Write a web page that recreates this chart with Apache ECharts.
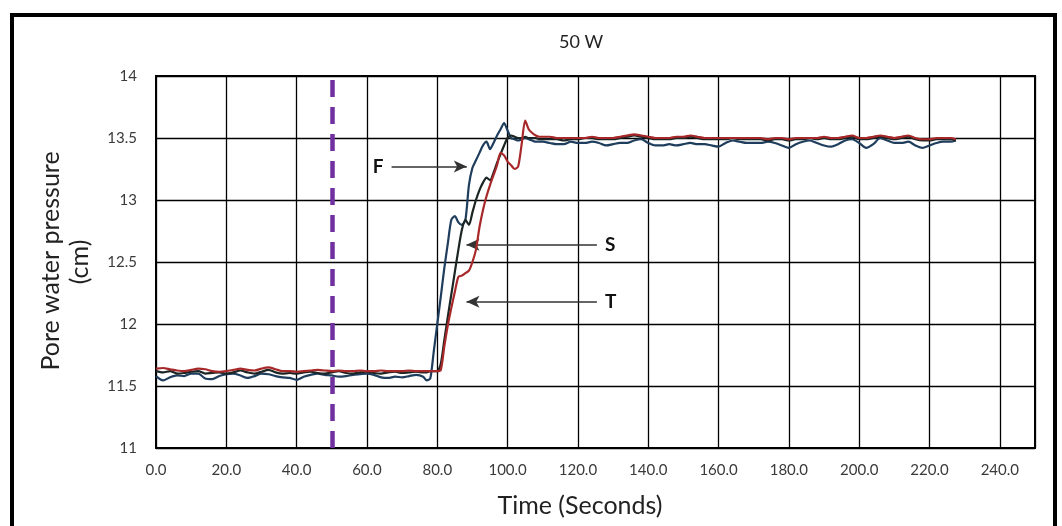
<!DOCTYPE html>
<html>
<head>
<meta charset="utf-8">
<script src="https://cdn.jsdelivr.net/npm/echarts@6/dist/echarts.min.js"></script>
<style>
  html, body { margin: 0; padding: 0; background: #fff; }
  #chart { width: 1062px; height: 526px; }
</style>
</head>
<body>
<div id="chart"></div>
<script>
// Sample times (s): every 2 s while steady, every 1 s through the pressure rise
const timeSec = [
  0, 2, 4, 6, 8, 10, 12, 14, 16, 18, 20, 22, 24, 26, 28, 30, 32, 34, 36, 38,
  40, 42, 44, 46, 48, 50, 52, 54, 56, 58, 60, 62, 64, 66, 68, 70, 72, 74, 76,
  77, 78, 79, 80, 81, 82, 83, 84, 85, 86, 87, 88, 89, 90, 91, 92, 93, 94, 95,
  96, 97, 98, 99, 100, 101, 102, 103, 104, 105, 106, 107, 108, 109, 110,
  112, 114, 116, 118, 120, 122, 124, 126, 128, 130, 132, 134, 136, 138, 140,
  142, 144, 146, 148, 150, 152, 154, 156, 158, 160, 162, 164, 166, 168, 170,
  172, 174, 176, 178, 180, 182, 184, 186, 188, 190, 192, 194, 196, 198, 200,
  202, 204, 206, 208, 210, 212, 214, 216, 218, 220, 222, 224, 226, 227.5
];

// Pore water pressure (cm) at sensor F
const pressureF = [
  11.58, 11.545, 11.57, 11.585, 11.58, 11.6, 11.6, 11.56, 11.555, 11.58, 11.595, 11.6, 11.585, 11.565, 11.58, 11.6, 11.595, 11.58, 11.57, 11.565,
  11.55, 11.575, 11.59, 11.6, 11.59, 11.585, 11.575, 11.58, 11.59, 11.595, 11.6, 11.59, 11.57, 11.565, 11.575, 11.57, 11.58, 11.59, 11.575,
  11.545, 11.56, 11.78, 12.0, 12.22, 12.45, 12.65, 12.84, 12.87, 12.82, 12.8, 12.84, 13.12, 13.26, 13.32, 13.38, 13.44, 13.47, 13.41,
  13.46, 13.52, 13.57, 13.62, 13.56, 13.5, 13.49, 13.48, 13.49, 13.5, 13.49, 13.48, 13.47, 13.47, 13.47,
  13.46, 13.45, 13.45, 13.47, 13.46, 13.46, 13.47, 13.46, 13.44, 13.45, 13.46, 13.46, 13.48, 13.49, 13.46,
  13.44, 13.44, 13.45, 13.44, 13.45, 13.46, 13.45, 13.45, 13.44, 13.43, 13.46, 13.48, 13.47, 13.46, 13.46,
  13.46, 13.47, 13.46, 13.44, 13.42, 13.45, 13.47, 13.48, 13.46, 13.44, 13.43, 13.45, 13.48, 13.49, 13.46,
  13.42, 13.45, 13.5, 13.48, 13.46, 13.46, 13.47, 13.44, 13.42, 13.44, 13.46, 13.47, 13.47, 13.48
];

// Pore water pressure (cm) at sensor S
const pressureS = [
  11.62, 11.61, 11.62, 11.6, 11.605, 11.615, 11.62, 11.6, 11.605, 11.61, 11.6, 11.61, 11.625, 11.61, 11.6, 11.615, 11.63, 11.61, 11.6, 11.605,
  11.6, 11.61, 11.615, 11.605, 11.6, 11.61, 11.62, 11.605, 11.6, 11.61, 11.615, 11.605, 11.6, 11.61, 11.615, 11.605, 11.61, 11.615, 11.61,
  11.61, 11.62, 11.62, 11.62, 11.68, 11.87, 12.06, 12.24, 12.42, 12.6, 12.76, 12.84, 12.8, 12.9, 13.0, 13.08, 13.14, 13.18, 13.16,
  13.22, 13.3, 13.37, 13.44, 13.5, 13.52, 13.51, 13.5, 13.5, 13.51, 13.5, 13.5, 13.5, 13.49, 13.49,
  13.49, 13.49, 13.48, 13.49, 13.49, 13.5, 13.5, 13.49, 13.49, 13.49, 13.5, 13.51, 13.52, 13.51, 13.5,
  13.49, 13.49, 13.49, 13.5, 13.5, 13.51, 13.5, 13.49, 13.49, 13.49, 13.49, 13.5, 13.49, 13.49, 13.49,
  13.49, 13.48, 13.49, 13.49, 13.48, 13.49, 13.49, 13.5, 13.49, 13.5, 13.49, 13.49, 13.5, 13.51, 13.49,
  13.49, 13.5, 13.51, 13.5, 13.49, 13.5, 13.51, 13.49, 13.48, 13.48, 13.49, 13.49, 13.49, 13.48
];

// Pore water pressure (cm) at sensor T
const pressureT = [
  11.64, 11.645, 11.635, 11.625, 11.62, 11.63, 11.64, 11.635, 11.62, 11.615, 11.62, 11.63, 11.64, 11.63, 11.625, 11.64, 11.65, 11.635, 11.62, 11.62,
  11.615, 11.62, 11.625, 11.63, 11.625, 11.62, 11.625, 11.62, 11.62, 11.625, 11.62, 11.62, 11.625, 11.62, 11.62, 11.62, 11.625, 11.62, 11.62,
  11.62, 11.62, 11.62, 11.62, 11.63, 11.82, 11.99, 12.13, 12.26, 12.38, 12.39, 12.41, 12.43, 12.5, 12.6, 12.78, 12.92, 13.03, 13.12,
  13.2, 13.28, 13.38, 13.36, 13.31, 13.28, 13.25, 13.27, 13.45, 13.64, 13.57, 13.54, 13.52, 13.51, 13.51,
  13.51, 13.5, 13.5, 13.5, 13.5, 13.5, 13.51, 13.5, 13.5, 13.5, 13.51, 13.52, 13.53, 13.52, 13.51,
  13.5, 13.5, 13.5, 13.51, 13.51, 13.52, 13.51, 13.5, 13.5, 13.5, 13.5, 13.5, 13.5, 13.5, 13.5,
  13.5, 13.49, 13.5, 13.5, 13.49, 13.5, 13.5, 13.5, 13.5, 13.51, 13.5, 13.5, 13.51, 13.52, 13.5,
  13.5, 13.51, 13.52, 13.51, 13.5, 13.51, 13.52, 13.5, 13.49, 13.49, 13.5, 13.5, 13.5, 13.49
];

// Moment the heater is switched on (s)
const heaterOnSec = 50;

// Pointer arrows: [label, tail time, tip time, pressure level]
const pointerF = ['F', 67.0, 88.4, 13.27];
const pointerS = ['S', 125.4, 88.3, 12.64];
const pointerT = ['T', 125.4, 88.3, 12.18];

const FONT = 'Lato, "Open Sans", sans-serif';

function pairs(values) {
  return timeSec.map((t, i) => [t, values[i]]);
}

function pointer(p) {
  return [
    { coord: [p[1], p[3]], symbol: 'none',
      label: { show: true, position: 'start', formatter: p[0], distance: 8,
               fontFamily: FONT, fontWeight: 'bold', fontSize: 19, color: '#111' } },
    { coord: [p[2], p[3]], symbol: 'arrow', symbolSize: [9, 13] }
  ];
}

const chart = echarts.init(document.getElementById('chart'), null, { renderer: 'canvas' });

chart.setOption({
  backgroundColor: '#ffffff',
  animation: false,
  grid: {
    left: 156, right: 27, top: 76, bottom: 78,
    show: true, borderColor: '#000', borderWidth: 2, backgroundColor: 'transparent'
  },
  xAxis: {
    type: 'value', min: 0, max: 250, interval: 20,
    axisLine: { show: true, onZero: false, lineStyle: { color: '#000', width: 2 } },
    axisTick: { show: false },
    splitLine: { show: true, lineStyle: { color: '#000', width: 1.3 } },
    axisLabel: {
      showMaxLabel: false, margin: 15,
      fontFamily: FONT, fontSize: 15, color: '#3a3a3a',
      formatter: v => v.toFixed(1)
    }
  },
  yAxis: {
    type: 'value', min: 11, max: 14, interval: 0.5,
    axisLine: { show: true, lineStyle: { color: '#000', width: 2 } },
    axisTick: { show: false },
    splitLine: { show: true, lineStyle: { color: '#000', width: 1.3 } },
    axisLabel: { margin: 19, fontFamily: FONT, fontSize: 15, color: '#3a3a3a' }
  },
  graphic: [
    { type: 'rect', shape: { x: 12, y: 15, width: 1043, height: 540 },
      style: { fill: 'none', stroke: '#000', lineWidth: 4 }, silent: true },
    { type: 'text', x: 581, y: 42,
      style: { text: '50 W', font: '18px ' + FONT, fill: '#222',
               textAlign: 'center', textVerticalAlign: 'middle' } },
    { type: 'text', x: 580, y: 506,
      style: { text: 'Time (Seconds)', font: '25px ' + FONT, fill: '#222',
               textAlign: 'center', textVerticalAlign: 'middle' } },
    { type: 'text', x: 51, y: 261, rotation: Math.PI / 2,
      style: { text: 'Pore water pressure', font: '25px ' + FONT, fill: '#222',
               textAlign: 'center', textVerticalAlign: 'middle' } },
    { type: 'text', x: 80, y: 262, rotation: Math.PI / 2,
      style: { text: '(cm)', font: '25px ' + FONT, fill: '#222',
               textAlign: 'center', textVerticalAlign: 'middle' } }
  ],
  series: [
    {
      name: 'F', type: 'line', data: pairs(pressureF), smooth: 0.25,
      showSymbol: false, lineStyle: { color: '#1f3d5c', width: 2.2 }, z: 3,
      markLine: {
        silent: true, symbol: ['none', 'none'], animation: false,
        data: [
          [{ coord: [heaterOnSec, 11], symbol: 'none', label: { show: false } },
           { coord: [heaterOnSec, 14], symbol: 'none' }]
        ],
        lineStyle: { color: '#7030a0', width: 4.5, type: [17, 10] }
      }
    },
    {
      name: 'S', type: 'line', data: pairs(pressureS), smooth: 0.25,
      showSymbol: false, lineStyle: { color: '#1b2524', width: 2.2 }, z: 4
    },
    {
      name: 'T', type: 'line', data: pairs(pressureT), smooth: 0.25,
      showSymbol: false, lineStyle: { color: '#a8282a', width: 2.2 }, z: 5,
      markLine: {
        silent: true, animation: false,
        lineStyle: { color: '#333', width: 1.5, type: 'solid' },
        data: [pointer(pointerF), pointer(pointerS), pointer(pointerT)]
      }
    }
  ]
});
</script>
</body>
</html>
